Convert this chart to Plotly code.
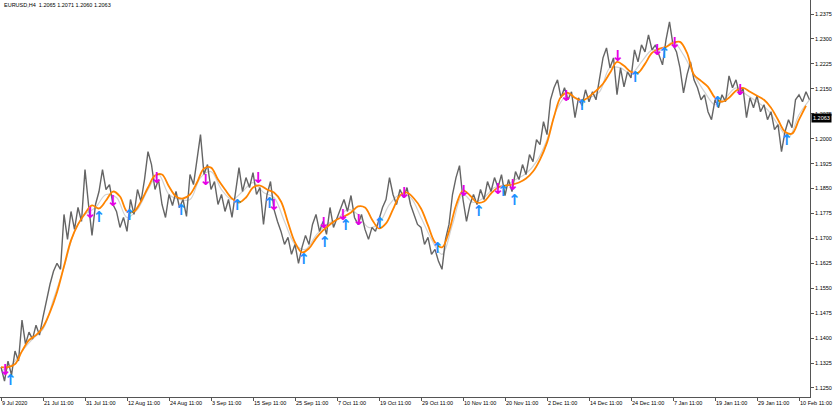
import plotly.graph_objects as go

# ---- data (EURUSD H4) ----
# price path sampled every 4 H4 bars
price_path = [
    1.1313, 1.1271, 1.1331, 1.1289, 1.1361, 1.1331, 1.1454, 1.1382, 1.1418, 1.1397,
    1.1439, 1.1409, 1.1463, 1.1517, 1.1562, 1.1601, 1.1625, 1.1607, 1.1772, 1.1697,
    1.1781, 1.1727, 1.1793, 1.1751, 1.1907, 1.1802, 1.1709, 1.1802, 1.1841, 1.1907,
    1.1847, 1.1862, 1.1802, 1.1781, 1.1733, 1.1763, 1.1721, 1.1817, 1.1772, 1.1847,
    1.1811, 1.1877, 1.1961, 1.1922, 1.1847, 1.1877, 1.1802, 1.1763, 1.1832, 1.1799,
    1.1841, 1.1793, 1.1817, 1.1766, 1.1892, 1.1862, 1.1943, 1.2012, 1.1892, 1.1922,
    1.1847, 1.1871, 1.1802, 1.1832, 1.1781, 1.1817, 1.1763, 1.1847, 1.1913, 1.1841,
    1.1883, 1.1853, 1.1898, 1.1832, 1.1853, 1.1742, 1.1832, 1.1871, 1.1787, 1.1751,
    1.1721, 1.1682, 1.1703, 1.1652, 1.1682, 1.1625, 1.1673, 1.1709, 1.1682, 1.1742,
    1.1772, 1.1721, 1.1751, 1.1712, 1.1793, 1.1733, 1.1763, 1.1787, 1.1817, 1.1781,
    1.1829, 1.1763, 1.1742, 1.1772, 1.1727, 1.1697, 1.1733, 1.1721, 1.1757, 1.1793,
    1.1817, 1.1883, 1.1832, 1.1802, 1.1847, 1.1823, 1.1853, 1.1802, 1.1772, 1.1742,
    1.1733, 1.1682, 1.1703, 1.1652, 1.1667, 1.1631, 1.1607, 1.1697, 1.1742, 1.1832,
    1.1883, 1.1919, 1.1817, 1.1751, 1.1802, 1.1832, 1.1802, 1.1847, 1.1817, 1.1871,
    1.1841, 1.1883, 1.1853, 1.1892, 1.1829, 1.1877, 1.1841, 1.1901, 1.1877, 1.1922,
    1.1892, 1.1952, 1.1931, 1.1997, 1.1982, 1.2051, 1.2012, 1.2117, 1.2153, 1.2177,
    1.2123, 1.2153, 1.2117, 1.2141, 1.2063, 1.2123, 1.2099, 1.2147, 1.2111, 1.2141,
    1.2117, 1.2183, 1.2243, 1.2273, 1.2213, 1.2243, 1.2132, 1.2213, 1.2156, 1.2201,
    1.2183, 1.2267, 1.2231, 1.2282, 1.2261, 1.2312, 1.2267, 1.2282, 1.2252, 1.2222,
    1.2297, 1.2351, 1.2282, 1.2261, 1.2213, 1.2138, 1.2192, 1.2231, 1.2177, 1.2153,
    1.2117, 1.2132, 1.2081, 1.2057, 1.2117, 1.2093, 1.2132, 1.2111, 1.2189, 1.2153,
    1.2177, 1.2132, 1.2153, 1.2063, 1.2123, 1.2093, 1.2129, 1.2081, 1.2102, 1.2057,
    1.2081, 1.2027, 1.2042, 1.1961, 1.2021, 1.2057, 1.2033, 1.2117, 1.2132, 1.2111,
    1.2141, 1.2117,
]
PATH_STEP = 4

# slow (orange) average, every 8 bars
ma_slow = [
    1.1313, 1.1313, 1.1322, 1.1361, 1.1394, 1.1409, 1.1433, 1.1478, 1.1538, 1.1616,
    1.1694, 1.1742, 1.1775, 1.1799, 1.1790, 1.1814, 1.1841, 1.1826, 1.1781, 1.1781,
    1.1811, 1.1853, 1.1889, 1.1892, 1.1856, 1.1826, 1.1820, 1.1832, 1.1868, 1.1910,
    1.1913, 1.1877, 1.1847, 1.1820, 1.1808, 1.1823, 1.1853, 1.1859, 1.1847, 1.1838,
    1.1811, 1.1748, 1.1688, 1.1658, 1.1670, 1.1700, 1.1724, 1.1742, 1.1757, 1.1766,
    1.1778, 1.1796, 1.1793, 1.1757, 1.1730, 1.1745, 1.1787, 1.1829, 1.1838, 1.1820,
    1.1790, 1.1739, 1.1688, 1.1673, 1.1721, 1.1799, 1.1844, 1.1829, 1.1808, 1.1811,
    1.1835, 1.1853, 1.1859, 1.1862, 1.1868, 1.1880, 1.1901, 1.1937, 1.1988, 1.2066,
    1.2126, 1.2138, 1.2123, 1.2114, 1.2126, 1.2144, 1.2165, 1.2198, 1.2231, 1.2219,
    1.2201, 1.2198, 1.2225, 1.2258, 1.2270, 1.2276, 1.2288, 1.2291, 1.2258, 1.2192,
    1.2174, 1.2156, 1.2123, 1.2111, 1.2123, 1.2144, 1.2153, 1.2141, 1.2129, 1.2117,
    1.2093, 1.2057, 1.2021, 1.2015, 1.2057, 1.2099,
]
SLOW_STEP = 8

# fast (light grey) average, every 12 bars
ma_fast = [
    1.1301, 1.1319, 1.1361, 1.1397, 1.1427, 1.1517, 1.1613, 1.1721, 1.1772, 1.1793,
    1.1832, 1.1823, 1.1763, 1.1787, 1.1847, 1.1892, 1.1832, 1.1817, 1.1817, 1.1883,
    1.1901, 1.1847, 1.1817, 1.1841, 1.1868, 1.1838, 1.1823, 1.1751, 1.1682, 1.1667,
    1.1709, 1.1742, 1.1757, 1.1787, 1.1772, 1.1733, 1.1745, 1.1802, 1.1832, 1.1823,
    1.1763, 1.1697, 1.1652, 1.1742, 1.1832, 1.1808, 1.1823, 1.1853, 1.1859, 1.1877,
    1.1895, 1.1931, 1.1997, 1.2093, 1.2132, 1.2117, 1.2123, 1.2141, 1.2213, 1.2213,
    1.2195, 1.2231, 1.2267, 1.2267, 1.2291, 1.2252, 1.2192, 1.2141, 1.2102, 1.2123,
    1.2153, 1.2132, 1.2111, 1.2087, 1.2042, 1.2003, 1.2072, 1.2117,
]
FAST_STEP = 12

# sell signals (magenta down arrows): bar number, price level
down_bars = [5, 102, 128, 178, 234, 294, 312, 369, 391, 409, 461, 529, 568, 585, 646, 705, 750, 770, 845]
down_prices = [1.1301, 1.1772, 1.1808, 1.1877, 1.1871, 1.1877, 1.1796, 1.1742, 1.1766, 1.1751,
               1.1832, 1.1838, 1.1844, 1.1856, 1.2126, 1.2246, 1.2264, 1.2285, 1.2144]
# buy signals (blue up arrows)
up_bars = [11, 112, 147, 206, 270, 307, 346, 370, 394, 433, 499, 546, 574, 587, 664, 725, 758, 819, 898]
up_prices = [1.1271, 1.1760, 1.1766, 1.1781, 1.1796, 1.1802, 1.1634, 1.1685, 1.1736, 1.1742,
             1.1667, 1.1778, 1.1838, 1.1811, 1.2099, 1.2183, 1.2255, 1.2108, 1.1991]

date_labels = ["9 Jul 2020", "21 Jul 11:00", "31 Jul 11:00", "12 Aug 11:00", "24 Aug 11:00",
               "3 Sep 11:00", "15 Sep 11:00", "25 Sep 11:00", "7 Oct 11:00", "19 Oct 11:00",
               "29 Oct 11:00", "10 Nov 11:00", "20 Nov 11:00", "2 Dec 11:00", "14 Dec 11:00",
               "24 Dec 11:00", "7 Jan 11:00", "19 Jan 11:00", "29 Jan 11:00", "10 Feb 11:00"]
LABEL_EVERY = 48  # bars between date labels

price_ticks = [1.1250, 1.1325, 1.1400, 1.1475, 1.1550, 1.1625, 1.1700, 1.1775,
               1.1850, 1.1925, 1.2000, 1.2075, 1.2150, 1.2225, 1.2300, 1.2375]
last_close = 1.2063
header = "EURUSD,H4\u00a0\u00a01.2065 1.2071 1.2060 1.2063"

FONT = "Liberation Sans"
FS = 5.5

fig = go.Figure()
fig.add_trace(go.Scatter(x=[i * FAST_STEP for i in range(len(ma_fast))], y=ma_fast,
                         mode="lines", line=dict(color="#d2d2d2", width=1.2, shape="spline"),
                         hoverinfo="skip"))
fig.add_trace(go.Scatter(x=[i * PATH_STEP for i in range(len(price_path))], y=price_path,
                         mode="lines", line=dict(color="#656565", width=1.4),
                         hoverinfo="skip"))
fig.add_trace(go.Scatter(x=[i * SLOW_STEP for i in range(len(ma_slow))], y=ma_slow,
                         mode="lines", line=dict(color="#ff8400", width=1.8, shape="spline"),
                         hoverinfo="skip"))
fig.add_trace(go.Scatter(x=down_bars, y=down_prices, mode="text", text=["\u2193"] * len(down_bars),
                         textposition="middle center",
                         textfont=dict(color="#e600e6", size=15, family="DejaVu Sans", weight="bold"),
                         hoverinfo="skip"))
fig.add_trace(go.Scatter(x=up_bars, y=up_prices, mode="text", text=["\u2191"] * len(up_bars),
                         textposition="middle center",
                         textfont=dict(color="#1e90ff", size=15, family="DejaVu Sans", weight="bold"),
                         hoverinfo="skip"))

x_lo = -8 / 7
x_hi = 809 * 8 / 7
fig.update_xaxes(range=[x_lo, x_hi],
                 tickvals=[i * LABEL_EVERY for i in range(len(date_labels))], ticktext=date_labels,
                 ticks="outside", ticklen=3, tickcolor="#555", ticklabelposition="outside right",
                 ticklabeloverflow="allow",
                 tickangle=0, tickfont=dict(family=FONT, size=FS, color="black"),
                 showgrid=False, zeroline=False, showline=True, linecolor="#555", linewidth=1)
fig.update_yaxes(range=[1.12229, 1.24171], side="right",
                 tickvals=price_ticks, ticktext=[f"{v:.4f}" for v in price_ticks],
                 ticks="outside", ticklen=3, tickcolor="#555",
                 tickfont=dict(family=FONT, size=FS, color="black"),
                 showgrid=False, zeroline=False, showline=True, mirror=True,
                 linecolor="#555", linewidth=1)

fig.add_annotation(x=0, y=1, xref="paper", yref="paper", xanchor="left", yanchor="top",
                   xshift=2, yshift=0, showarrow=False, text=header,
                   font=dict(family=FONT, size=FS, color="black"))
fig.add_annotation(x=1, y=last_close, xref="paper", yref="y", xanchor="left", yanchor="middle",
                   xshift=1, showarrow=False, text=f"{last_close:.4f}",
                   bgcolor="black", borderpad=1, font=dict(family=FONT, size=FS, color="white"))

fig.update_layout(width=835, height=407, margin=dict(l=0, r=25, t=0, b=10),
                  plot_bgcolor="white", paper_bgcolor="white", showlegend=False)
fig.write_html("out.html", config={"displayModeBar": False},
               post_script="document.body.style.margin='0px';")
